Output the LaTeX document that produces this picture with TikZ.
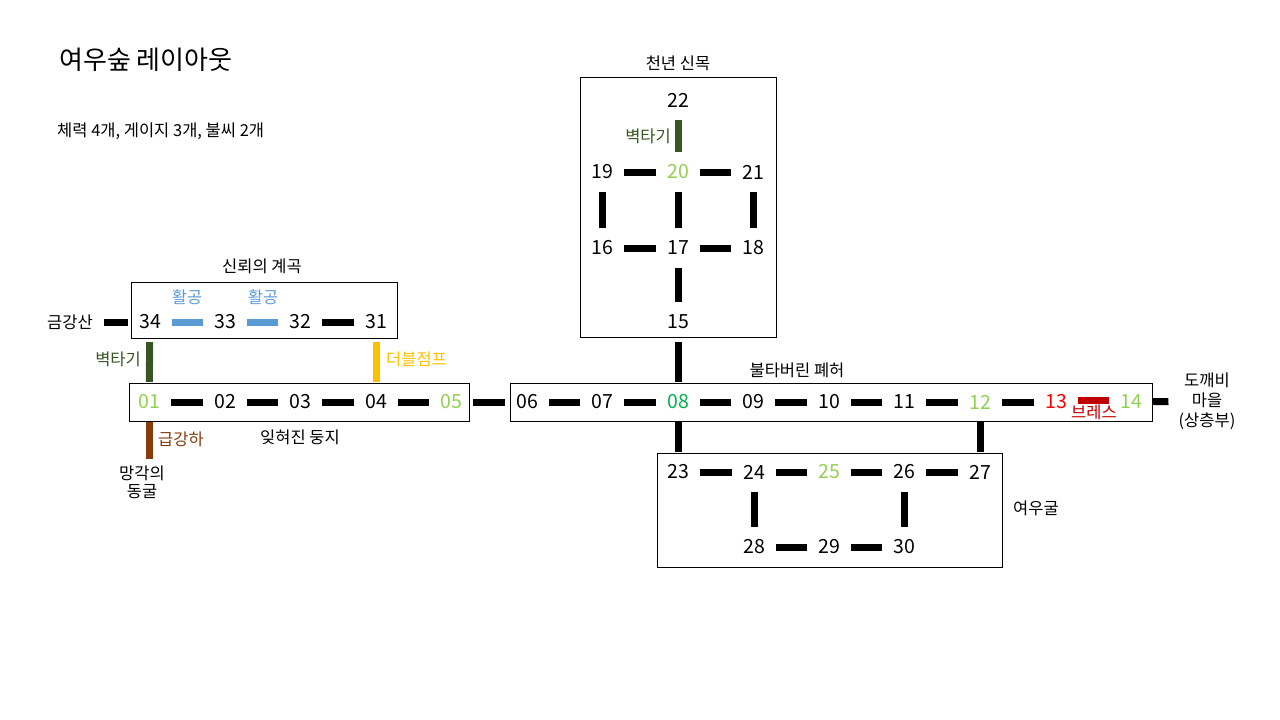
\documentclass[tikz,border=0pt]{standalone}
\usepackage{fontspec}
\setmainfont{Noto Sans CJK KR}
\definecolor{room-light}{HTML}{92D050}
\definecolor{room-green}{HTML}{00B050}
\definecolor{room-red}{HTML}{FF0000}
\definecolor{skill-climb}{HTML}{375623}
\definecolor{skill-glide}{HTML}{5B9BD5}
\definecolor{skill-jump}{HTML}{FFC000}
\definecolor{skill-dive}{HTML}{843C0C}
\definecolor{skill-breath}{HTML}{C00000}
\usetikzlibrary{positioning}
\tikzset{
  room/.style={
    inner sep=0pt, minimum width=44pt, minimum height=40pt,
    font=\fontsize{19.5}{21}\selectfont
  },
  link/.style={
    draw, color=black, line width=7pt
  },
  area/.style={
    draw, color=black, line width=.8pt
  },
  caption/.style={
    inner sep=0pt, align=center, font=\fontsize{16.5}{19}\selectfont
  }
}

\begin{document}
\begin{tikzpicture}[x=1pt, y=-1pt]
        \useasboundingbox (0,0) rectangle (1280,720);

        % title
        \node[caption, anchor=west, font=\fontsize{26}{30}\selectfont] (title) at (59,60) {여우숲 레이아웃};
        \node[caption, anchor=west, font=\fontsize{16.5}{19}\selectfont] (info) at (57,131) {체력 4개, 게이지 3개, 불씨 2개};

        % areas
        \draw[area] (131,282) rectangle (397,338);
        \draw[area] (129,383) rectangle (469,421);
        \draw[area] (510,383) rectangle (1152,421);
        \draw[area] (580,77) rectangle (776,337);
        \draw[area] (657,453) rectangle (1002,567);

        \node[caption] (valley) at (262,266) {신뢰의 계곡};
        \node[caption] (nest) at (300,437) {잊혀진 둥지};
        \node[caption] (tree) at (678,63) {천년 신목};
        \node[caption] (ruins) at (797,370) {불타버린 폐허};
        \node[caption] (den) at (1036,508) {여우굴};

        % rooms
        \node[room] (n34) at (150,322) {34};
        \node[room] (n33) at (225,322) {33};
        \node[room] (n32) at (300,322) {32};
        \node[room] (n31) at (376,322) {31};

        \node[room, color=room-light] (n01) at (149,402) {01};
        \node[room] (n02) at (225,402) {02};
        \node[room] (n03) at (300,402) {03};
        \node[room] (n04) at (376,402) {04};
        \node[room, color=room-light] (n05) at (451,402) {05};

        \node[room] (n06) at (527,402) {06};
        \node[room] (n07) at (602,402) {07};
        \node[room, color=room-green] (n08) at (678,402) {08};
        \node[room] (n09) at (753,402) {09};
        \node[room] (n10) at (829,402) {10};
        \node[room] (n11) at (904,402) {11};
        \node[room, color=room-light] (n12) at (980,402) {12};
        \node[room, color=room-red] (n13) at (1056,402) {13};
        \node[room, color=room-light] (n14) at (1131,402) {14};

        \node[room] (n15) at (678,322) {15};
        \node[room] (n16) at (602,248) {16};
        \node[room] (n17) at (678,248) {17};
        \node[room] (n18) at (753,248) {18};
        \node[room] (n19) at (602,172) {19};
        \node[room, color=room-light] (n20) at (678,172) {20};
        \node[room] (n21) at (753,172) {21};
        \node[room] (n22) at (678,100) {22};

        \node[room] (n23) at (678,472) {23};
        \node[room] (n24) at (754,472) {24};
        \node[room, color=room-light] (n25) at (829,472) {25};
        \node[room] (n26) at (904,472) {26};
        \node[room] (n27) at (980,472) {27};
        \node[room] (n28) at (754,547) {28};
        \node[room] (n29) at (829,547) {29};
        \node[room] (n30) at (904,547) {30};

        % exits
        \node[caption] (mountain) at (70,322) {금강산};
        \node[caption, font=\fontsize{16.5}{18}\selectfont] (cave) at (142,482) {망각의\\동굴};
        \node[caption, font=\fontsize{16.5}{20}\selectfont] (village) at (1207,401) {도깨비\\마을\\(상층부)};
        \coordinate (cave-top) at (149,459);

        % links
        \draw[link] (mountain) -- (n34) [shorten <=11pt];
        \draw[link, color=skill-glide] (n34) -- (n33);
        \draw[link, color=skill-glide] (n33) -- (n32);
        \draw[link] (n32) -- (n31);
        \draw[link, color=skill-climb] (n34) -- (n01);
        \draw[link, color=skill-jump] (n31) -- (n04);
        \draw[link, color=skill-dive] (n01) -- (cave-top);

        \draw[link] (n01) -- (n02);
        \draw[link] (n02) -- (n03);
        \draw[link] (n03) -- (n04);
        \draw[link] (n04) -- (n05);
        \draw[link] (n05) -- (n06);
        \draw[link] (n06) -- (n07);
        \draw[link] (n07) -- (n08);
        \draw[link] (n08) -- (n09);
        \draw[link] (n09) -- (n10);
        \draw[link] (n10) -- (n11);
        \draw[link] (n11) -- (n12);
        \draw[link] (n12) -- (n13);
        \draw[link, color=skill-breath] ([yshift=2pt]n13.east) -- ([yshift=2pt]n14.west);
        \draw[link, shorten >=10pt] (n14) -- (village);

        \draw[link] (n08) -- (n15);
        \draw[link] (n15) -- (n17);
        \draw[link] (n16) -- (n17);
        \draw[link] (n17) -- (n18);
        \draw[link] (n19) -- (n20);
        \draw[link] (n20) -- (n21);
        \draw[link] (n19) -- (n16);
        \draw[link] (n20) -- (n17);
        \draw[link] (n21) -- (n18);
        \draw[link, color=skill-climb] (n22) -- (n20);

        \draw[link] (n08) -- (n23);
        \draw[link] (n12) -- (n27);
        \draw[link] (n23) -- (n24);
        \draw[link] (n24) -- (n25);
        \draw[link] (n25) -- (n26);
        \draw[link] (n26) -- (n27);
        \draw[link] (n24) -- (n28);
        \draw[link] (n26) -- (n30);
        \draw[link] (n28) -- (n29);
        \draw[link] (n29) -- (n30);

        % skills
        \node[caption, color=skill-glide] (glide1) at (187,297) {활공};
        \node[caption, color=skill-glide] (glide2) at (263,297) {활공};
        \node[caption, color=skill-climb, anchor=east] (climb1) at (141,359) {벽타기};
        \node[caption, color=skill-climb, anchor=east] (climb2) at (671,136) {벽타기};
        \node[caption, color=skill-jump, anchor=west] (jump) at (386,359) {더블점프};
        \node[caption, color=skill-dive, anchor=west] (dive) at (158,439) {급강하};
        \node[caption, color=skill-breath] (breath) at (1094,412) {브레스};
      \end{tikzpicture}
\end{document}
